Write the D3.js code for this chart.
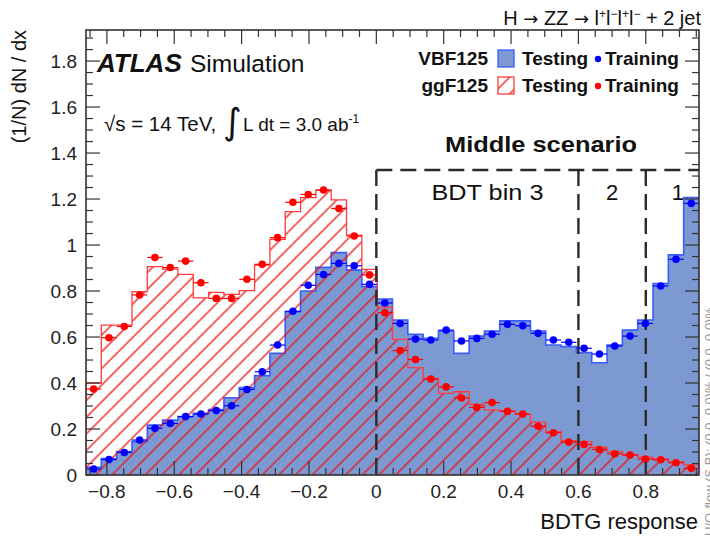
<!DOCTYPE html>
<html>
<head>
<meta charset="utf-8">
<script src="https://cdn.jsdelivr.net/npm/d3@7"></script>
<style>
  body { margin: 0; background: #fff; }
  text { font-family: "Liberation Sans", Arial, Helvetica, sans-serif; fill: #111; }
</style>
</head>
<body>
<div id="chart"></div>
<script>
// BDTG response: 40 bins between xMin and xMax
var xMin = -0.862, xMax = 0.958, nBins = 40;

// VBF125 (signal) testing histogram and training points
var vbfTest = [0.033, 0.072, 0.102, 0.145, 0.217, 0.239, 0.254, 0.268, 0.285, 0.336,
               0.380, 0.432, 0.529, 0.710, 0.800, 0.903, 0.967, 0.891, 0.819, 0.765,
               0.674, 0.612, 0.594, 0.626, 0.529, 0.604, 0.626, 0.670, 0.670, 0.626,
               0.565, 0.558, 0.532, 0.488, 0.565, 0.630, 0.674, 0.833, 0.957, 1.206];
var vbfTrain = [0.026, 0.067, 0.098, 0.152, 0.203, 0.224, 0.254, 0.265, 0.280, 0.301,
                0.372, 0.449, 0.565, 0.712, 0.825, 0.872, 0.920, 0.910, 0.829, 0.748,
                0.659, 0.591, 0.587, 0.630, 0.583, 0.594, 0.612, 0.655, 0.649, 0.616,
                0.587, 0.577, 0.551, 0.526, 0.561, 0.604, 0.659, 0.822, 0.938, 1.181];

// ggF125 (background) testing histogram and training points
var ggfTest = [0.400, 0.652, 0.652, 0.797, 0.906, 0.895, 0.872, 0.770, 0.794, 0.785,
               0.802, 0.913, 1.025, 1.145, 1.206, 1.239, 1.196, 1.043, 0.894, 0.730,
               0.590, 0.467, 0.420, 0.355, 0.362, 0.307, 0.283, 0.278, 0.264, 0.230,
               0.188, 0.149, 0.145, 0.120, 0.102, 0.088, 0.078, 0.070, 0.058, 0.044];
var ggfTrain = [0.374, 0.597, 0.646, 0.783, 0.946, 0.902, 0.930, 0.836, 0.768, 0.768,
                0.851, 0.916, 1.032, 1.186, 1.220, 1.239, 1.159, 1.039, 0.870, 0.706,
                0.541, 0.502, 0.417, 0.383, 0.335, 0.294, 0.315, 0.277, 0.265, 0.212,
                0.184, 0.143, 0.133, 0.111, 0.092, 0.087, 0.069, 0.066, 0.053, 0.029];

// scenario boxes
var binCuts = [0, 0.6, 0.8];
var scenarioTop = 1.326;
var binLabels = ["BDT bin 3", "2", "1"];

// axis ticks
var xTicks = [-0.8, -0.6, -0.4, -0.2, 0, 0.2, 0.4, 0.6, 0.8];
var yTicks = [0, 0.2, 0.4, 0.6, 0.8, 1, 1.2, 1.4, 1.6, 1.8];
var yMax = 1.935;

var width = 710, height = 536;
var pLeft = 86, pRight = 699, pTop = 30, pBottom = 475;

var x = d3.scaleLinear().domain([xMin, xMax]).range([pLeft, pRight]);
var y = d3.scaleLinear().domain([0, yMax]).range([pBottom, pTop]);
var binW = (xMax - xMin) / nBins;

var svg = d3.select("#chart").append("svg")
    .attr("width", width)
    .attr("height", height);

var defs = svg.append("defs");
defs.append("clipPath").attr("id", "plotClip")
  .append("rect").attr("x", pLeft).attr("y", pTop)
  .attr("width", pRight - pLeft).attr("height", pBottom - pTop);

// red hatch  "/" like ROOT fill style 3004
var hatch = defs.append("pattern")
    .attr("id", "hatch")
    .attr("patternUnits", "userSpaceOnUse")
    .attr("width", 11.8).attr("height", 11.8)
    .attr("patternTransform", "rotate(45)");
hatch.append("line")
    .attr("x1", 2).attr("y1", 0).attr("x2", 2).attr("y2", 11.8)
    .style("stroke", "#ee1111").style("stroke-width", 1.3);

// build a step outline from bin values
function stepPoints(vals) {
  var pts = [[x(xMin), y(0)]];
  vals.forEach(function(v, i) {
    var x0 = x(xMin + i * binW), x1 = x(xMin + (i + 1) * binW);
    pts.push([x0, y(v)]);
    pts.push([x1, y(v)]);
  });
  pts.push([x(xMax), y(0)]);
  return pts;
}
var line = d3.line();

var plot = svg.append("g").attr("clip-path", "url(#plotClip)");

// VBF testing
plot.append("path")
    .attr("d", line(stepPoints(vbfTest)) + "Z")
    .style("fill", "#7d99d1")
    .style("stroke", "#3a5cff")
    .style("stroke-width", 1.6);

// ggF testing
plot.append("path")
    .attr("d", line(stepPoints(ggfTest)) + "Z")
    .style("fill", "url(#hatch)")
    .style("stroke", "#ff3b3b")
    .style("stroke-width", 1.3);

// dashed scenario box
var dash = svg.append("g")
    .style("stroke", "#2a2a2a")
    .style("stroke-width", 2.4)
    .style("stroke-dasharray", "16,8")
    .style("fill", "none");
binCuts.forEach(function(c) {
  dash.append("line")
    .attr("x1", x(c)).attr("x2", x(c))
    .attr("y1", y(scenarioTop)).attr("y2", pBottom);
});
dash.append("line")
    .attr("x1", x(binCuts[0])).attr("x2", pRight)
    .attr("y1", y(scenarioTop)).attr("y2", y(scenarioTop));

// training points with horizontal error bars
function drawPoints(vals, color) {
  var g = svg.append("g");
  vals.forEach(function(v, i) {
    var c = xMin + (i + 0.5) * binW;
    g.append("line")
      .attr("x1", x(c - binW / 2)).attr("x2", x(c + binW / 2))
      .attr("y1", y(v)).attr("y2", y(v))
      .style("stroke", color).style("stroke-width", 1.2);
    g.append("circle")
      .attr("cx", x(c)).attr("cy", y(v)).attr("r", 3.8)
      .style("fill", color);
  });
}
drawPoints(vbfTrain, "#0000ff");
drawPoints(ggfTrain, "#ff0000");

// bin labels
var labelPos = [0.33, 0.7, 0.895];
var labelLen = [112, null, null];
binLabels.forEach(function(t, i) {
  var el = svg.append("text")
    .attr("x", x(labelPos[i])).attr("y", 200)
    .style("text-anchor", "middle")
    .style("font-size", "22px")
    .text(t);
  if (labelLen[i]) el.attr("textLength", labelLen[i]).attr("lengthAdjust", "spacingAndGlyphs");
});
svg.append("text")
    .attr("x", 541).attr("y", 152)
    .style("text-anchor", "middle")
    .style("font-size", "22px")
    .style("font-weight", "bold")
    .attr("textLength", 192).attr("lengthAdjust", "spacingAndGlyphs")
    .text("Middle scenario");

// frame and ticks (all four sides, inward)
var axes = svg.append("g").style("stroke", "#333").style("stroke-width", 1.2);
axes.append("rect")
    .attr("x", pLeft).attr("y", pTop)
    .attr("width", pRight - pLeft).attr("height", pBottom - pTop)
    .style("fill", "none").style("stroke-width", 1.6);

d3.range(-0.85, 0.96, 0.05).forEach(function(t) {
  var major = xTicks.some(function(m) { return Math.abs(m - t) < 1e-6; });
  var len = major ? 14 : 7;
  axes.append("line").attr("x1", x(t)).attr("x2", x(t)).attr("y1", pBottom).attr("y2", pBottom - len);
  axes.append("line").attr("x1", x(t)).attr("x2", x(t)).attr("y1", pTop).attr("y2", pTop + len);
});
d3.range(0, yMax, 0.05).forEach(function(t) {
  var major = yTicks.some(function(m) { return Math.abs(m - t) < 1e-6; });
  var len = major ? 14 : 7;
  axes.append("line").attr("y1", y(t)).attr("y2", y(t)).attr("x1", pLeft).attr("x2", pLeft + len);
  axes.append("line").attr("y1", y(t)).attr("y2", y(t)).attr("x1", pRight).attr("x2", pRight - len);
});

var fmt = d3.format("~g");
xTicks.forEach(function(t) {
  svg.append("text")
    .attr("x", x(t)).attr("y", 498)
    .style("text-anchor", "middle")
    .style("font-size", "19px")
    .style("fill", "#222")
    .text(fmt(t));
});
yTicks.forEach(function(t) {
  svg.append("text")
    .attr("x", 77).attr("y", y(t) + 7)
    .style("text-anchor", "end")
    .style("font-size", "19px")
    .style("fill", "#222")
    .text(fmt(t));
});

// axis titles
svg.append("text")
    .attr("transform", "translate(26," + pTop + ") rotate(-90)")
    .style("text-anchor", "end")
    .style("font-size", "20px")
    .text("(1/N) dN / dx");
svg.append("text")
    .attr("x", 698).attr("y", 529)
    .style("text-anchor", "end")
    .style("font-size", "22px")
    .text("BDTG response");

// process label
var proc = svg.append("text")
    .attr("x", 701).attr("y", 25)
    .style("text-anchor", "end")
    .style("font-size", "20px");
proc.append("tspan").text("H ");
proc.append("tspan").style("font-family", "DejaVu Sans").style("font-size", "18px").text("\u2192");
proc.append("tspan").text(" ZZ ");
proc.append("tspan").style("font-family", "DejaVu Sans").style("font-size", "18px").text("\u2192");
proc.append("tspan").text(" l");
proc.append("tspan").attr("dy", -7).style("font-size", "12px").text("+");
proc.append("tspan").attr("dy", 7).text("l");
proc.append("tspan").attr("dy", -7).style("font-size", "12px").text("\u2212");
proc.append("tspan").attr("dy", 7).text("l");
proc.append("tspan").attr("dy", -7).style("font-size", "12px").text("+");
proc.append("tspan").attr("dy", 7).text("l");
proc.append("tspan").attr("dy", -7).style("font-size", "12px").text("\u2212");
proc.append("tspan").attr("dy", 7).text(" + 2 jet");

// ATLAS label
svg.append("text")
    .attr("x", 97).attr("y", 72)
    .style("font-size", "26px")
    .style("font-weight", "bold")
    .style("font-style", "italic")
    .text("ATLAS");
svg.append("text")
    .attr("x", 190).attr("y", 72)
    .style("font-size", "24.5px")
    .text("Simulation");

svg.append("text")
    .attr("x", 104).attr("y", 131)
    .style("font-size", "20.5px")
    .text("\u221As = 14 TeV,");
svg.append("text")
    .attr("x", 223).attr("y", 134)
    .style("font-size", "36px")
    .style("font-family", "DejaVu Sans")
    .text("\u222B");
var lumi = svg.append("text")
    .attr("x", 243).attr("y", 131)
    .style("font-size", "19px");
lumi.append("tspan").text("L dt = 3.0 ab");
lumi.append("tspan").attr("dy", -8).style("font-size", "12px").text("-1");

// legend
var legRows = [
  { name: "VBF125", y: 65, color: "#0000ff" },
  { name: "ggF125", y: 92, color: "#ff0000" }
];
legRows.forEach(function(r, i) {
  svg.append("text")
    .attr("x", 488).attr("y", r.y)
    .style("text-anchor", "end")
    .style("font-size", "19px").style("font-weight", "bold")
    .text(r.name);
  svg.append("rect")
    .attr("x", 498).attr("y", r.y - 15).attr("width", 16).attr("height", 17)
    .style("fill", i === 0 ? "#7d99d1" : "url(#hatch)")
    .style("stroke", i === 0 ? "#3a5cff" : "#ff3b3b")
    .style("stroke-width", 1.3);
  svg.append("text")
    .attr("x", 522).attr("y", r.y)
    .style("font-size", "19px").style("font-weight", "bold")
    .text("Testing");
  svg.append("circle")
    .attr("cx", 598).attr("cy", r.y - 6).attr("r", 3.2)
    .style("fill", r.color);
  svg.append("text")
    .attr("x", 605).attr("y", r.y)
    .style("font-size", "19px").style("font-weight", "bold")
    .text("Training");
});

// overflow note, mostly cut off on the right edge
svg.append("text")
    .attr("transform", "translate(714,536) rotate(-90)")
    .style("font-size", "13px")
    .style("fill", "#999")
    .text("U/O-flow (S,B): (0.0, 0.0)% / (0.0, 0.0)%");
</script>
</body>
</html>
